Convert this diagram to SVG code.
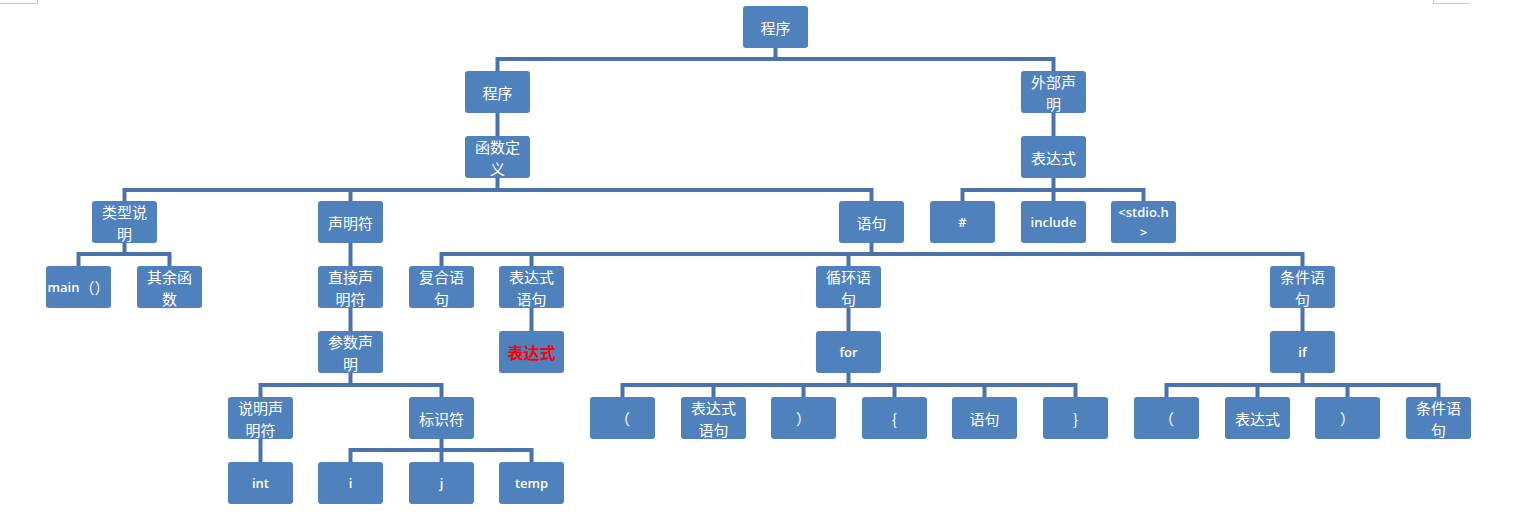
<svg xmlns="http://www.w3.org/2000/svg" width="1521" height="516" viewBox="0 0 1521 516">
<style>
.n rect{fill:#4f81bd;}
.t{fill:#ffffff;font-family:"Noto Sans CJK SC","Noto Sans",sans-serif;font-size:15px;text-anchor:middle;dominant-baseline:central;}
.l{fill:#ffffff;font-family:"Open Sans","Noto Sans CJK SC",sans-serif;font-weight:600;font-size:13px;text-anchor:middle;dominant-baseline:central;}
.red{fill:#ff0000;font-weight:bold;font-size:16px;}
.c path{fill:none;stroke:#4a72ab;stroke-width:4;}
.mark{stroke:#c8c8c8;stroke-width:1;fill:none;}
</style>
<rect width="1521" height="516" fill="#ffffff"/>
<path class="mark" d="M0,3.5 H37.5 V0 M1433.5,0 V3.5 H1470"/>
<g class="c" id="connectors">
<path d="M775.5,48 V59 M497.5,71 V59 H1053.5 V71"/>
<path d="M497.5,113 V136 M1053.5,113 V136"/>
<path d="M497.5,178 V190 M124.5,201 V190 H871.5 V201 M350.5,190 V201"/>
<path d="M1053.5,178 V201 M962.5,201 V190 H1143.5 V201"/>
<path d="M124.5,243 V254 M78.5,266 V254 H169.5 V266"/>
<path d="M350.5,243 V266 M350.5,308 V331"/>
<path d="M871.5,243 V254 M441.5,266 V254 H1302.5 V266 M531.5,254 V266 M848.5,254 V266"/>
<path d="M531.5,308 V331 M848.5,308 V331 M1302.5,308 V331"/>
<path d="M350.5,373 V385 M260.5,397 V385 H441.5 V397"/>
<path d="M260.5,439 V462"/>
<path d="M441.5,439 V450 M350.5,462 V450 H531.5 V462 M441.5,450 V462"/>
<path d="M848.5,373 V385 M622.5,397 V385 H1075.5 V397 M713.5,385 V397 M803.5,385 V397 M894.5,385 V397 M984.5,385 V397"/>
<path d="M1302.5,373 V385 M1166.5,397 V385 H1438.5 V397 M1257.5,385 V397 M1347.5,385 V397"/>
</g>
<g class="n" id="n_root"><rect x="743" y="6" width="65" height="42" rx="3"/><text class="t" x="775.5" y="27">程序</text></g>
<g class="n" id="n_prog"><rect x="465" y="71" width="65" height="42" rx="3"/><text class="t" x="497.5" y="92">程序</text></g>
<g class="n" id="n_ext"><rect x="1021" y="71" width="65" height="42" rx="3"/><text class="t" x="1053.5" y="81">外部声</text><text class="t" x="1053.5" y="103">明</text></g>
<g class="n" id="n_func"><rect x="465" y="136" width="65" height="42" rx="3"/><text class="t" x="497.5" y="146">函数定</text><text class="t" x="497.5" y="168">义</text></g>
<g class="n" id="n_expr0"><rect x="1021" y="136" width="65" height="42" rx="3"/><text class="t" x="1053.5" y="157">表达式</text></g>
<g class="n" id="n_type"><rect x="92" y="201" width="65" height="42" rx="3"/><text class="t" x="124.5" y="211">类型说</text><text class="t" x="124.5" y="233">明</text></g>
<g class="n" id="n_decl"><rect x="318" y="201" width="65" height="42" rx="3"/><text class="t" x="350.5" y="222">声明符</text></g>
<g class="n" id="n_stmt"><rect x="839" y="201" width="65" height="42" rx="3"/><text class="t" x="871.5" y="222">语句</text></g>
<g class="n" id="n_hash"><rect x="930" y="201" width="65" height="42" rx="3"/><text class="l" x="962.5" y="222">#</text></g>
<g class="n" id="n_include"><rect x="1021" y="201" width="65" height="42" rx="3"/><text class="l" x="1053.5" y="222">include</text></g>
<g class="n" id="n_stdio"><rect x="1111" y="201" width="65" height="42" rx="3"/><text class="l" x="1143.5" y="212">&lt;stdio.h</text><text class="l" x="1143.5" y="232">&gt;</text></g>
<g class="n" id="n_main"><rect x="46" y="266" width="65" height="42" rx="3"/><text class="l" x="78.5" y="287">main<tspan style="font-family:'Noto Sans CJK SC',sans-serif;font-weight:normal;font-size:15px">（）</tspan></text></g>
<g class="n" id="n_other"><rect x="137" y="266" width="65" height="42" rx="3"/><text class="t" x="169.5" y="276">其余函</text><text class="t" x="169.5" y="298">数</text></g>
<g class="n" id="n_direct"><rect x="318" y="266" width="65" height="42" rx="3"/><text class="t" x="350.5" y="276">直接声</text><text class="t" x="350.5" y="298">明符</text></g>
<g class="n" id="n_compound"><rect x="409" y="266" width="65" height="42" rx="3"/><text class="t" x="441.5" y="276">复合语</text><text class="t" x="441.5" y="298">句</text></g>
<g class="n" id="n_exprstmt"><rect x="499" y="266" width="65" height="42" rx="3"/><text class="t" x="531.5" y="276">表达式</text><text class="t" x="531.5" y="298">语句</text></g>
<g class="n" id="n_loop"><rect x="816" y="266" width="65" height="42" rx="3"/><text class="t" x="848.5" y="276">循环语</text><text class="t" x="848.5" y="298">句</text></g>
<g class="n" id="n_cond"><rect x="1270" y="266" width="65" height="42" rx="3"/><text class="t" x="1302.5" y="276">条件语</text><text class="t" x="1302.5" y="298">句</text></g>
<g class="n" id="n_param"><rect x="318" y="331" width="65" height="42" rx="3"/><text class="t" x="350.5" y="341">参数声</text><text class="t" x="350.5" y="363">明</text></g>
<g class="n" id="n_exprred"><rect x="499" y="331" width="65" height="42" rx="3"/><text class="t red" x="531.5" y="352">表达式</text></g>
<g class="n" id="n_for"><rect x="816" y="331" width="65" height="42" rx="3"/><text class="l" x="848.5" y="352">for</text></g>
<g class="n" id="n_if"><rect x="1270" y="331" width="65" height="42" rx="3"/><text class="l" x="1302.5" y="352">if</text></g>
<g class="n" id="n_specdecl"><rect x="228" y="397" width="65" height="42" rx="3"/><text class="t" x="260.5" y="407">说明声</text><text class="t" x="260.5" y="429">明符</text></g>
<g class="n" id="n_ident"><rect x="409" y="397" width="65" height="42" rx="3"/><text class="t" x="441.5" y="418">标识符</text></g>
<g class="n" id="n_f_lp"><rect x="590" y="397" width="65" height="42" rx="3"/><text class="t" x="622.5" y="418">（</text></g>
<g class="n" id="n_f_expr"><rect x="681" y="397" width="65" height="42" rx="3"/><text class="t" x="713.5" y="407">表达式</text><text class="t" x="713.5" y="429">语句</text></g>
<g class="n" id="n_f_rp"><rect x="771" y="397" width="65" height="42" rx="3"/><text class="t" x="803.5" y="418">）</text></g>
<g class="n" id="n_f_lb"><rect x="862" y="397" width="65" height="42" rx="3"/><text class="t" x="894.5" y="418">{</text></g>
<g class="n" id="n_f_stmt"><rect x="952" y="397" width="65" height="42" rx="3"/><text class="t" x="984.5" y="418">语句</text></g>
<g class="n" id="n_f_rb"><rect x="1043" y="397" width="65" height="42" rx="3"/><text class="t" x="1075.5" y="418">}</text></g>
<g class="n" id="n_i_lp"><rect x="1134" y="397" width="65" height="42" rx="3"/><text class="t" x="1166.5" y="418">（</text></g>
<g class="n" id="n_i_expr"><rect x="1225" y="397" width="65" height="42" rx="3"/><text class="t" x="1257.5" y="418">表达式</text></g>
<g class="n" id="n_i_rp"><rect x="1315" y="397" width="65" height="42" rx="3"/><text class="t" x="1347.5" y="418">）</text></g>
<g class="n" id="n_i_cond"><rect x="1406" y="397" width="65" height="42" rx="3"/><text class="t" x="1438.5" y="407">条件语</text><text class="t" x="1438.5" y="429">句</text></g>
<g class="n" id="n_int"><rect x="228" y="462" width="65" height="42" rx="3"/><text class="l" x="260.5" y="483">int</text></g>
<g class="n" id="n_i"><rect x="318" y="462" width="65" height="42" rx="3"/><text class="l" x="350.5" y="483">i</text></g>
<g class="n" id="n_j"><rect x="409" y="462" width="65" height="42" rx="3"/><text class="l" x="441.5" y="483">j</text></g>
<g class="n" id="n_temp"><rect x="499" y="462" width="65" height="42" rx="3"/><text class="l" x="531.5" y="483">temp</text></g>
</svg>
